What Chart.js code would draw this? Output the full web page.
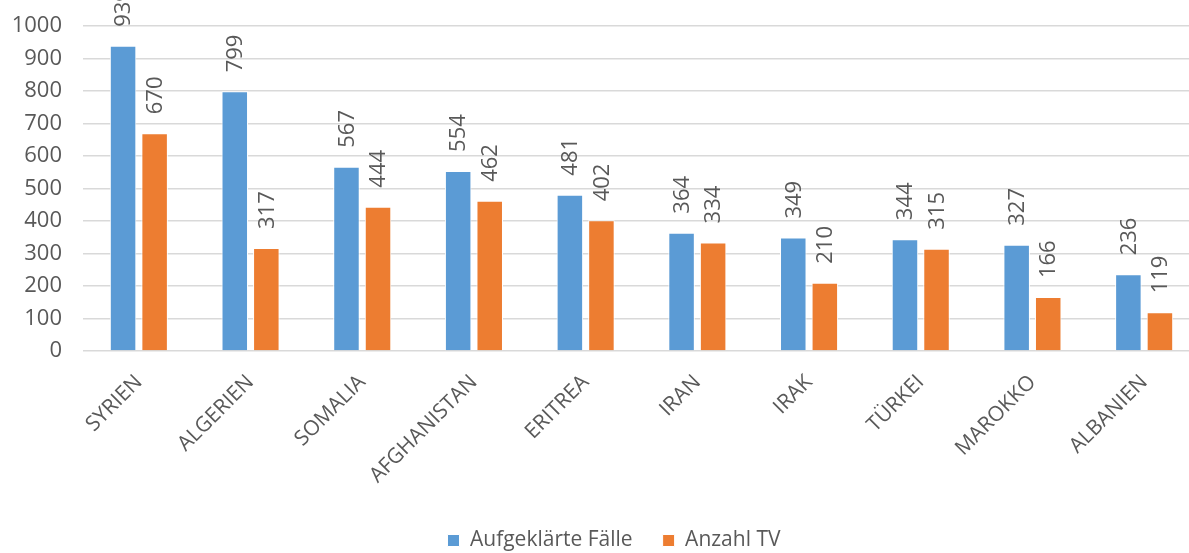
<!DOCTYPE html>
<html><head><meta charset="utf-8">
<script src="https://cdn.jsdelivr.net/npm/chart.js@4.4.1/dist/chart.umd.min.js"></script>
<style>
html,body{margin:0;padding:0;background:#fff;overflow:hidden;}
#wrap{width:1200px;height:553px;position:relative;}
</style></head>
<body>
<div id="wrap"><canvas id="c"></canvas></div>
<script>
const categories = ["SYRIEN","ALGERIEN","SOMALIA","AFGHANISTAN","ERITREA","IRAN","IRAK","TÜRKEI","MAROKKO","ALBANIEN"];
const aufgeklaert = [939,799,567,554,481,364,349,344,327,236];
const anzahlTV = [670,317,444,462,402,334,210,315,166,119];
const yTicks = [0,100,200,300,400,500,600,700,800,900,1000];

const FONT = "'Open Sans', sans-serif";
const TXT = '#595959';

const labelPlugin = {
  id: 'vlabels',
  afterLayout(chart) {
    if (chart.legend) { chart.legend.left += 14; chart.legend.right += 14; }
  },
  afterDatasetsDraw(chart) {
    const ctx = chart.ctx;
    ctx.save();
    ctx.font = "22px " + FONT;
    ctx.fillStyle = TXT;
    ctx.textAlign = 'left';
    ctx.textBaseline = 'middle';
    chart.data.datasets.forEach((ds, di) => {
      const meta = chart.getDatasetMeta(di);
      meta.data.forEach((bar, i) => {
        ctx.save();
        ctx.translate(bar.x + 1, bar.y - 19);
        ctx.rotate(-Math.PI / 2);
        ctx.fillText(String(ds.data[i]), 0, 0);
        ctx.restore();
      });
    });
    ctx.restore();
  }
};

new Chart(document.getElementById('c'), {
  type: 'bar',
  data: {
    labels: categories,
    datasets: [
      { label: 'Aufgeklärte Fälle', data: aufgeklaert, backgroundColor: '#5B9BD5', borderColor: '#ffffff', borderWidth: 1, categoryPercentage: 0.565, barPercentage: 0.84 },
      { label: 'Anzahl TV', data: anzahlTV, backgroundColor: '#ED7D31', borderColor: '#ffffff', borderWidth: 1, categoryPercentage: 0.565, barPercentage: 0.84 }
    ]
  },
  options: {
    responsive: true,
    maintainAspectRatio: false,
    animation: false,
    layout: { padding: { top: 26, left: 0, right: 0, bottom: -8 } },
    plugins: {
      legend: {
        position: 'bottom',
        labels: { font: { family: FONT, size: 21 }, color: TXT, boxWidth: 12, boxHeight: 12, padding: 30 }
      },
      tooltip: { enabled: false }
    },
    scales: {
      x: {
        grid: { display: false, drawTicks: false },
        border: { display: false },
        ticks: { font: { family: FONT, size: 21 }, color: TXT, minRotation: 45, maxRotation: 45, padding: 19 },
        afterFit(s) { s.paddingLeft = 0; s.paddingRight = 0; s.height = 149; }
      },
      y: {
        min: 0, max: 1000,
        afterBuildTicks(axis) { axis.ticks = yTicks.map(v => ({ value: v })); },
        grid: { color: '#d9d9d9', lineWidth: 1.5, drawTicks: false },
        border: { display: false },
        ticks: { font: { family: FONT, size: 22 }, color: TXT, padding: 21, callback: (v) => String(v) },
        afterFit(s) { s.width = 83; s.paddingTop = 0; s.paddingBottom = 0; }
      }
    }
  },
  plugins: [labelPlugin]
});
</script>
</body></html>
